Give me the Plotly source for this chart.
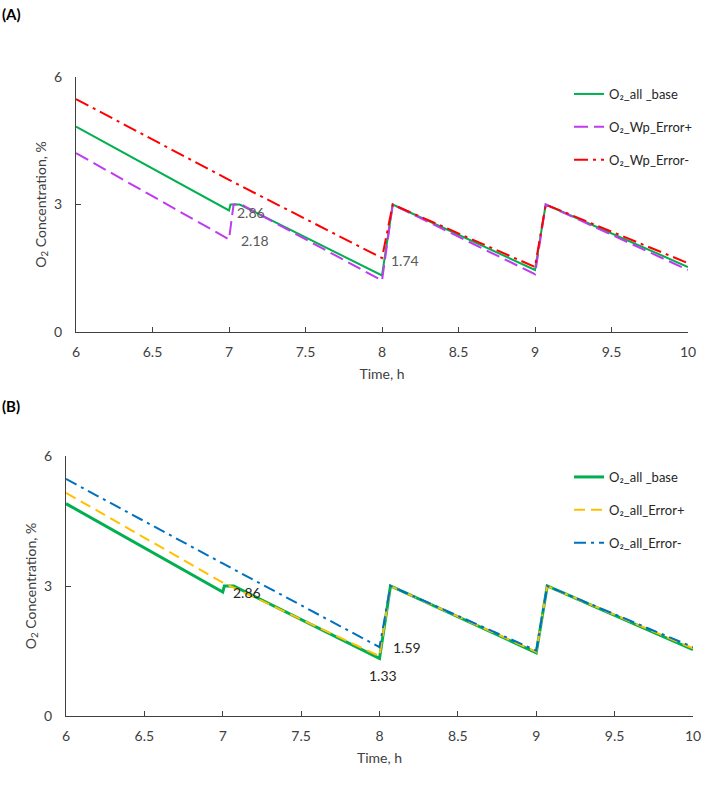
import plotly.graph_objects as go

# ---------------- data ----------------
# Panel A
a_base_t = [6, 7, 7.01, 7.07, 8, 8.07, 9, 9.07, 10]
a_base_v = [4.83, 2.86, 3.0, 3.0, 1.33, 3.0, 1.46, 3.0, 1.53]
a_wpp_t = [6, 7, 7.03, 7.08, 8, 8.07, 9, 9.07, 10]
a_wpp_v = [4.21, 2.18, 3.0, 3.0, 1.21, 3.0, 1.36, 3.0, 1.46]
a_wpm_t = [6, 7, 8, 8.07, 9, 9.07, 10]
a_wpm_v = [5.48, 3.58, 1.74, 3.0, 1.53, 3.0, 1.62]

# Panel B
b_base_t = [6, 7, 7.01, 7.07, 8, 8.07, 9, 9.07, 10]
b_base_v = [4.9, 2.86, 3.0, 3.0, 1.33, 3.0, 1.46, 3.0, 1.53]
b_allp_t = [6, 7, 8, 8.07, 9, 9.07, 10]
b_allp_v = [5.15, 3.08, 1.38, 3.0, 1.48, 3.0, 1.56]
b_allm_t = [6, 7, 8, 8.07, 9, 9.07, 10]
b_allm_v = [5.47, 3.52, 1.59, 3.0, 1.51, 3.0, 1.59]

x_ticks = [6, 6.5, 7, 7.5, 8, 8.5, 9, 9.5, 10]
x_ticklabels = ["6", "6.5", "7", "7.5", "8", "8.5", "9", "9.5", "10"]
y_ticks = [0, 3, 6]

FONT = "Lato"
TXT = "#404040"
AX = "#404040"

fig = go.Figure()

# Panel A traces
fig.add_trace(go.Scatter(x=a_base_t, y=a_base_v, mode="lines", name="O₂_all _base",
                         line=dict(color="#00B050", width=2), xaxis="x", yaxis="y",
                         legend="legend", legendgroup="a1"))
fig.add_trace(go.Scatter(x=a_wpp_t, y=a_wpp_v, mode="lines", name="O₂_Wp_Error+",
                         line=dict(color="#C03BF0", width=2, dash="14px,6px"), xaxis="x", yaxis="y",
                         legend="legend", legendgroup="a2"))
fig.add_trace(go.Scatter(x=a_wpm_t, y=a_wpm_v, mode="lines", name="O₂_Wp_Error-",
                         line=dict(color="#FF0000", width=2, dash="14px,5px,3px,5px"), xaxis="x", yaxis="y",
                         legend="legend", legendgroup="a3"))

# Panel B traces
fig.add_trace(go.Scatter(x=b_base_t, y=b_base_v, mode="lines", name="O₂_all _base",
                         line=dict(color="#00B050", width=3), xaxis="x2", yaxis="y2",
                         legend="legend2", legendgroup="b1"))
fig.add_trace(go.Scatter(x=b_allp_t, y=b_allp_v, mode="lines", name="O₂_all_Error+",
                         line=dict(color="#FFC000", width=2, dash="11px,6px"), xaxis="x2", yaxis="y2",
                         legend="legend2", legendgroup="b2"))
fig.add_trace(go.Scatter(x=b_allm_t, y=b_allm_v, mode="lines", name="O₂_all_Error-",
                         line=dict(color="#0070C0", width=2, dash="12px,5px,3px,5px"), xaxis="x2", yaxis="y2",
                         legend="legend2", legendgroup="b3"))

axis_common = dict(showline=True, linecolor=AX, linewidth=1.3, ticks="inside", ticklen=5,
                   tickcolor=AX, showgrid=False, zeroline=False, ticklabeloverflow="allow",
                   tickfont=dict(family=FONT, size=14, color=TXT))

xcommon = dict(axis_common, range=[6, 10], tickvals=x_ticks, ticktext=x_ticklabels,
               ticklabelstandoff=7,
               title=dict(text="Time, h", font=dict(family=FONT, size=14, color=TXT), standoff=10))
ycommon = dict(axis_common, range=[0, 6], tickvals=y_ticks, ticklabelstandoff=10,
               title=dict(text="O<sub>2</sub> Concentration, %", font=dict(family=FONT, size=14, color=TXT),
                          standoff=4))

W, H = 701, 785
ML, MR, MT, MB = 66, 8, 77, 69
pw = W - ML - MR
ph = H - MT - MB

def px2x(p):
    return (p - ML) / pw

def py2y(p):
    return (H - MB - p) / ph

leg_font = dict(family=FONT, size=13, color="#262626")

fig.update_layout(
    width=W, height=H,
    margin=dict(l=ML, r=MR, t=MT, b=MB, autoexpand=False),
    paper_bgcolor="white", plot_bgcolor="white",
    font=dict(family=FONT, size=14, color=TXT),
    xaxis=dict(xcommon, domain=[px2x(76), px2x(688)], anchor="y"),
    yaxis=dict(ycommon, domain=[py2y(332), 1], anchor="x"),
    xaxis2=dict(xcommon, domain=[0, 1], anchor="y2"),
    yaxis2=dict(ycommon, domain=[0, py2y(456)], anchor="x2"),
    legend=dict(x=px2x(569), y=py2y(79), xanchor="left", yanchor="top",
                bgcolor="rgba(0,0,0,0)", itemwidth=30, tracegroupgap=13, font=leg_font),
    legend2=dict(x=px2x(569), y=py2y(462), xanchor="left", yanchor="top",
                 bgcolor="rgba(0,0,0,0)", itemwidth=30, tracegroupgap=13, font=leg_font),
    showlegend=True,
)

# value labels
A_LBL = "#595959"
B_LBL = "#262626"
fig.add_annotation(x=7, y=a_base_v[1], xref="x", yref="y", text="2.86", showarrow=False,
                   xanchor="left", yanchor="middle", xshift=6, yshift=-2,
                   font=dict(family=FONT, size=14, color=A_LBL))
fig.add_annotation(x=7, y=a_wpp_v[1], xref="x", yref="y", text="2.18", showarrow=False,
                   xanchor="left", yanchor="middle", xshift=10, yshift=-1,
                   font=dict(family=FONT, size=14, color=A_LBL))
fig.add_annotation(x=8, y=a_wpm_v[2], xref="x", yref="y", text="1.74", showarrow=False,
                   xanchor="left", yanchor="middle", xshift=7, yshift=-2,
                   font=dict(family=FONT, size=14, color=A_LBL))
fig.add_annotation(x=7, y=b_base_v[1], xref="x2", yref="y2", text="2.86", showarrow=False,
                   xanchor="left", yanchor="middle", xshift=8, yshift=0,
                   font=dict(family=FONT, size=14, color=B_LBL))
fig.add_annotation(x=8, y=b_allm_v[2], xref="x2", yref="y2", text="1.59", showarrow=False,
                   xanchor="left", yanchor="middle", xshift=11, yshift=0,
                   font=dict(family=FONT, size=14, color=B_LBL))
fig.add_annotation(x=8, y=b_base_v[4], xref="x2", yref="y2", text="1.33", showarrow=False,
                   xanchor="center", yanchor="top", xshift=3, yshift=-7,
                   font=dict(family=FONT, size=14, color=B_LBL))

# panel labels
fig.add_annotation(x=px2x(0), y=py2y(3), xref="paper", yref="paper", text="<b>(A)</b>",
                   showarrow=False, xanchor="left", yanchor="top",
                   font=dict(family=FONT, size=15, color="black"))
fig.add_annotation(x=px2x(0), y=py2y(395), xref="paper", yref="paper", text="<b>(B)</b>",
                   showarrow=False, xanchor="left", yanchor="top",
                   font=dict(family=FONT, size=15, color="black"))

fig.write_html("out.html")
